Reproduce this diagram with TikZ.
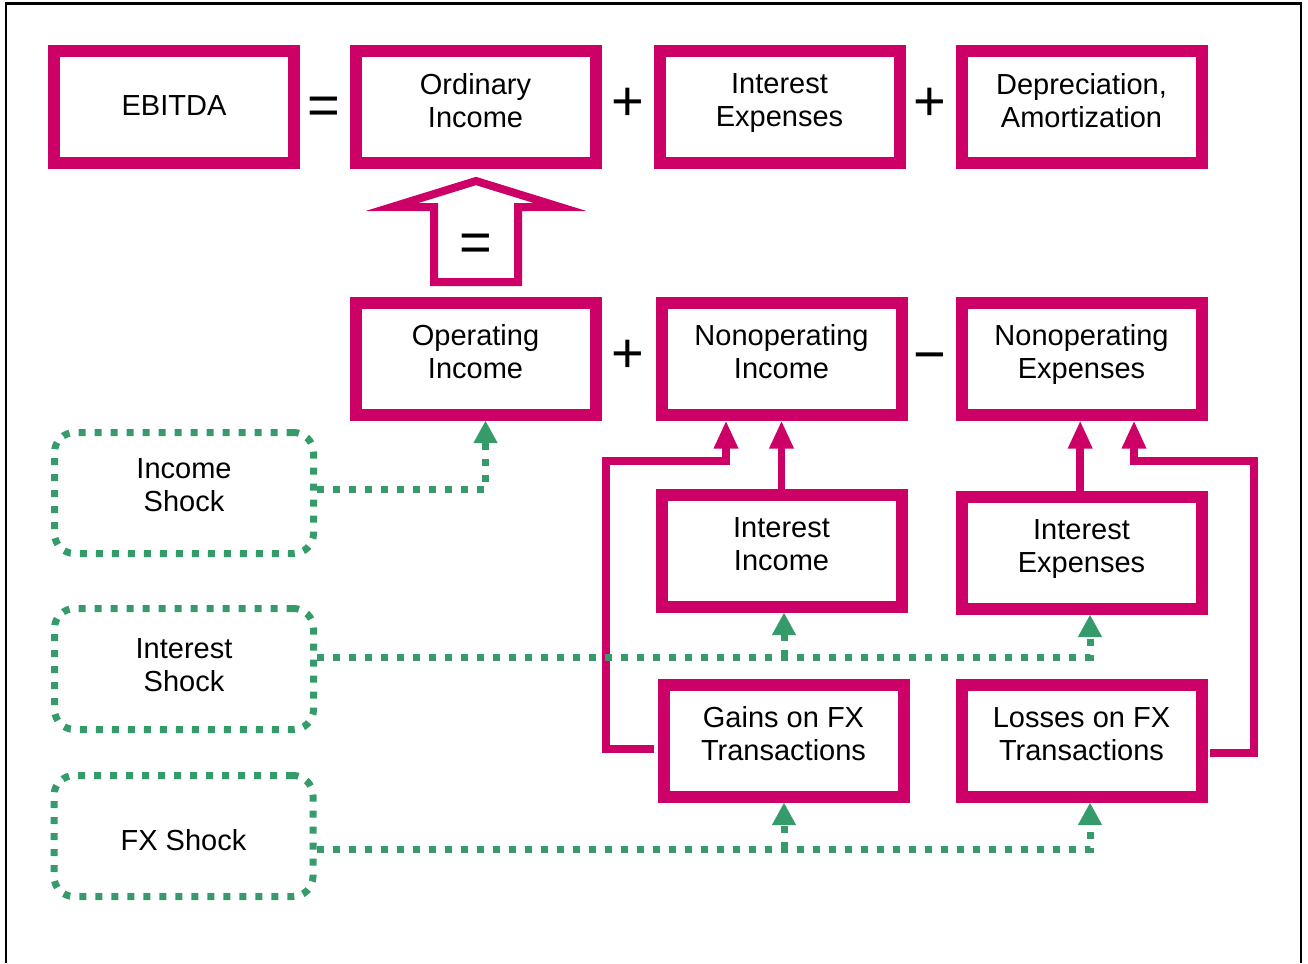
\documentclass[tikz,border=0pt]{standalone}
\usepackage{fontspec}
\setmainfont{Liberation Sans}
\usetikzlibrary{arrows.meta}
\definecolor{mag}{RGB}{204,0,102}
\definecolor{grn}{RGB}{53,155,106}
\newcommand{\bxfont}{\fontsize{21.75pt}{24.75pt}\selectfont}
\newcommand{\opfont}{\fontsize{42pt}{42pt}\selectfont}
\begin{document}
\begin{tikzpicture}[x=0.75pt,y=-0.75pt,
  box/.style={draw=mag, line width=9pt, fill=white, minimum width=180pt, minimum height=84pt,
    inner sep=0pt, align=center, font=\bxfont,
    execute at begin node=\strut, execute at end node={\rule[-10.4pt]{0pt}{10.4pt}}},
  shock/.style={draw=grn, line width=5.25pt, dash pattern=on 5.25pt off 6.75pt,
    rounded corners=15pt, minimum width=194.25pt, minimum height=90.75pt,
    inner sep=0pt, align=center, font=\bxfont},
  op/.style={font=\opfont, inner sep=0pt, anchor=base},
  magline/.style={draw=mag, line width=5.6pt},
  magarrow/.style={magline, -{Triangle[width=17pt,length=21pt]}},
  grnline/.style={draw=grn, line width=5.25pt, dash pattern=on 5.25pt off 6.75pt},
  grnarrow/.style={grnline, -{Triangle[width=17pt,length=17pt]}},
]
\useasboundingbox (0,0) rectangle (1308,963);
% frame
\draw[line width=1.9pt] (6,963) -- (6,3.5) -- (1301,3.5) -- (1301,963);

% boxes
\node[box, execute at begin node={\rule{0pt}{23.3pt}}] (ebitda) at (174,107) {EBITDA};
\node[box] (ord) at (475.5,107) {Ordinary\\Income};
\node[box] (iexpA) at (779.5,107) {Interest\\Expenses};
\node[box] (dep) at (1081.5,107) {Depreciation,\\Amortization};
\node[box] (opi) at (475.5,358.5) {Operating\\Income};
\node[box] (noi) at (781.5,358.5) {Nonoperating\\Income};
\node[box] (noe) at (1081.5,358.5) {Nonoperating\\Expenses};
\node[box] (iinc) at (781.5,550.5) {Interest\\Income};
\node[box] (iexp) at (1081.5,552.5) {Interest\\Expenses};
\node[box] (gains) at (783.5,740.5) {Gains on FX\\Transactions};
\node[box] (losses) at (1081.5,740.5) {Losses on FX\\Transactions};

% operators
\node[op] (eqA) at (324,124.4) {=};
\node[op] (plA) at (628,120.4) {+};
\node[op] (plB) at (930,120.4) {+};
\node[op] (plC) at (628,372.4) {+};
\node[op] (miA) at (930,373.4) {\char"2212};

% big hollow arrow
\draw[mag, line width=6pt, fill=white, miter limit=10]
  (434,282) -- (434,207) -- (392,207) -- (476,181) -- (560,207) -- (518,207) -- (518,282) -- cycle;
\node[op] (eqB) at (476,261.4) {=};

% shocks
\node[shock, execute at end node={\rule[-12pt]{0pt}{12pt}}] (incs) at (184,493) {Income\\Shock};
\node[shock, execute at end node={\rule[-6pt]{0pt}{6pt}}] (ints) at (184,669) {Interest\\Shock};
\node[shock, execute at begin node={\rule{0pt}{21.6pt}}] (fxs) at (183.5,836) {FX Shock};

% magenta connectors
\coordinate (g1) at (606,461);
\coordinate (ga) at (726,0);
\coordinate (l1) at (1254,461);
\coordinate (la) at (1134,0);
\draw[magarrow] ([xshift=-3pt,yshift=-6.4pt]gains.west) -| (g1) -| (noi.south -| ga);
\draw[magarrow] (iinc.north) -- (iinc.north |- noi.south);
\draw[magarrow] ([xshift=-1pt]iexp.north) -- ([xshift=-1pt]iexp.north |- noe.south);
\draw[magarrow] ([xshift=2pt,yshift=-9.4pt]losses.east) -| (l1) -| (noe.south -| la);

% green connectors
\draw[grnarrow] ([yshift=3pt]incs.east) -| ([xshift=7.5pt]opi.south);
\coordinate (ih) at (784,657);
\coordinate (ix) at (1090,657);
\draw[grnarrow] (ints.east |- ih) -| (iexp.south -| ix);
\draw[grnarrow] (ih) -- (ih |- iinc.south);
\coordinate (fh) at (784,849);
\coordinate (fx) at (1090,849);
\draw[grnarrow] (fxs.east |- fh) -| (losses.south -| fx);
\draw[grnarrow] (fh) -- (fh |- gains.south);
\end{tikzpicture}
\end{document}
